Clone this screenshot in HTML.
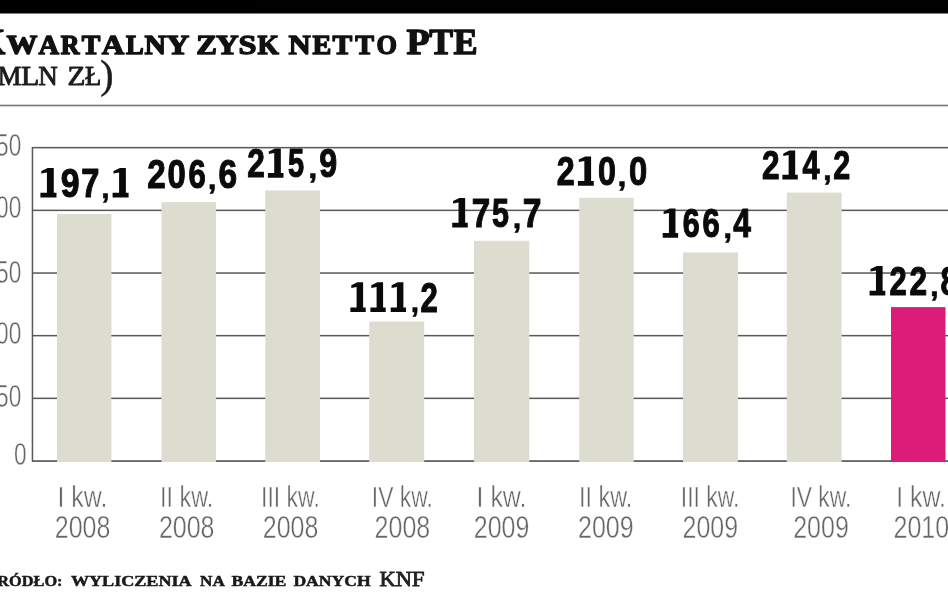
<!DOCTYPE html>
<html><head><meta charset="utf-8"><title>chart</title>
<style>
html,body{margin:0;padding:0;background:#fff;}
body{width:948px;height:593px;overflow:hidden;position:relative;font-family:"Liberation Sans",sans-serif;}
svg{position:absolute;left:0;top:0;display:block;will-change:transform;opacity:0.999;}
.t{font-family:"Liberation Serif",serif;font-weight:bold;fill:#111;stroke:#111;stroke-width:1.25px;stroke-linejoin:round;}
.s{font-family:"Liberation Serif",serif;fill:#1c1c1c;stroke:#1c1c1c;stroke-width:1px;}
.k{font-family:"Liberation Serif",serif;fill:#222;stroke:#222;stroke-width:0.8px;}
.f{font-family:"Liberation Serif",serif;font-weight:bold;fill:#1a1a1a;stroke:#1a1a1a;stroke-width:0.5px;}
.v{font-family:"Liberation Sans",sans-serif;font-weight:bold;fill:#0c0c0c;stroke:#0c0c0c;stroke-width:0.6px;}
.a{font-family:"Liberation Sans",sans-serif;fill:#666;stroke:#fff;stroke-width:0.42px;}
</style></head><body>
<svg width="948" height="593" viewBox="0 0 948 593">
<rect x="0" y="0" width="948" height="593" fill="#fff"/>
<rect x="0" y="0" width="948" height="13.5" fill="#000"/>
<text transform="matrix(0.3493 0 0 0.3513 -21.90 54.00)" font-family="Liberation Serif" font-weight="bold" font-size="100" fill="#111" stroke="#111" stroke-width="4.00" stroke-linejoin="round">K</text>
<text transform="matrix(0.3092 0 0 0.2627 6.56 54.00)" font-family="Liberation Serif" font-weight="bold" font-size="100" fill="#111" stroke="#111" stroke-width="4.91" stroke-linejoin="round">W</text>
<text transform="matrix(0.2851 0 0 0.2627 38.42 54.00)" font-family="Liberation Serif" font-weight="bold" font-size="100" fill="#111" stroke="#111" stroke-width="5.12" stroke-linejoin="round">A</text>
<text transform="matrix(0.2592 0 0 0.2627 60.76 54.00)" font-family="Liberation Serif" font-weight="bold" font-size="100" fill="#111" stroke="#111" stroke-width="5.37" stroke-linejoin="round">R</text>
<text transform="matrix(0.2782 0 0 0.2627 81.87 54.00)" font-family="Liberation Serif" font-weight="bold" font-size="100" fill="#111" stroke="#111" stroke-width="5.18" stroke-linejoin="round">T</text>
<text transform="matrix(0.3120 0 0 0.2627 101.80 54.00)" font-family="Liberation Serif" font-weight="bold" font-size="100" fill="#111" stroke="#111" stroke-width="4.89" stroke-linejoin="round">A</text>
<text transform="matrix(0.2648 0 0 0.2627 125.95 54.00)" font-family="Liberation Serif" font-weight="bold" font-size="100" fill="#111" stroke="#111" stroke-width="5.31" stroke-linejoin="round">L</text>
<text transform="matrix(0.2986 0 0 0.2627 144.53 54.00)" font-family="Liberation Serif" font-weight="bold" font-size="100" fill="#111" stroke="#111" stroke-width="5.00" stroke-linejoin="round">N</text>
<text transform="matrix(0.3195 0 0 0.2627 166.34 54.00)" font-family="Liberation Serif" font-weight="bold" font-size="100" fill="#111" stroke="#111" stroke-width="4.83" stroke-linejoin="round">Y</text>
<text transform="matrix(0.3097 0 0 0.2627 196.22 54.00)" font-family="Liberation Serif" font-weight="bold" font-size="100" fill="#111" stroke="#111" stroke-width="4.91" stroke-linejoin="round">Z</text>
<text transform="matrix(0.3180 0 0 0.2627 215.74 54.00)" font-family="Liberation Serif" font-weight="bold" font-size="100" fill="#111" stroke="#111" stroke-width="4.84" stroke-linejoin="round">Y</text>
<text transform="matrix(0.3236 0 0 0.2718 238.58 54.30)" font-family="Liberation Serif" font-weight="bold" font-size="100" fill="#111" stroke="#111" stroke-width="4.72" stroke-linejoin="round">S</text>
<text transform="matrix(0.2749 0 0 0.2627 257.43 54.00)" font-family="Liberation Serif" font-weight="bold" font-size="100" fill="#111" stroke="#111" stroke-width="5.21" stroke-linejoin="round">K</text>
<text transform="matrix(0.3073 0 0 0.2627 288.51 54.00)" font-family="Liberation Serif" font-weight="bold" font-size="100" fill="#111" stroke="#111" stroke-width="4.93" stroke-linejoin="round">N</text>
<text transform="matrix(0.2823 0 0 0.2627 312.52 54.00)" font-family="Liberation Serif" font-weight="bold" font-size="100" fill="#111" stroke="#111" stroke-width="5.14" stroke-linejoin="round">E</text>
<text transform="matrix(0.2955 0 0 0.2627 332.54 54.00)" font-family="Liberation Serif" font-weight="bold" font-size="100" fill="#111" stroke="#111" stroke-width="5.03" stroke-linejoin="round">T</text>
<text transform="matrix(0.2813 0 0 0.2627 355.26 54.00)" font-family="Liberation Serif" font-weight="bold" font-size="100" fill="#111" stroke="#111" stroke-width="5.15" stroke-linejoin="round">T</text>
<text transform="matrix(0.2632 0 0 0.2718 376.62 54.30)" font-family="Liberation Serif" font-weight="bold" font-size="100" fill="#111" stroke="#111" stroke-width="5.23" stroke-linejoin="round">O</text>
<text transform="matrix(0.3785 0 0 0.3513 406.45 54.00)" font-family="Liberation Serif" font-weight="bold" font-size="100" fill="#111" stroke="#111" stroke-width="3.84" stroke-linejoin="round">P</text>
<text transform="matrix(0.3552 0 0 0.3513 429.14 54.00)" font-family="Liberation Serif" font-weight="bold" font-size="100" fill="#111" stroke="#111" stroke-width="3.96" stroke-linejoin="round">T</text>
<text transform="matrix(0.3608 0 0 0.3513 453.58 54.00)" font-family="Liberation Serif" font-weight="bold" font-size="100" fill="#111" stroke="#111" stroke-width="3.93" stroke-linejoin="round">E</text>
<text transform="matrix(0.2647 0 0 0.2688 -2.31 85.35)" font-family="Liberation Serif" font-weight="normal" font-size="100" fill="#1c1c1c" stroke="#1c1c1c" stroke-width="3.37" stroke-linejoin="round">M</text>
<text transform="matrix(0.2989 0 0 0.2688 21.09 85.35)" font-family="Liberation Serif" font-weight="normal" font-size="100" fill="#1c1c1c" stroke="#1c1c1c" stroke-width="3.18" stroke-linejoin="round">L</text>
<text transform="matrix(0.2700 0 0 0.2688 38.27 85.35)" font-family="Liberation Serif" font-weight="normal" font-size="100" fill="#1c1c1c" stroke="#1c1c1c" stroke-width="3.34" stroke-linejoin="round">N</text>
<text transform="matrix(0.2931 0 0 0.2688 67.45 85.35)" font-family="Liberation Serif" font-weight="normal" font-size="100" fill="#1c1c1c" stroke="#1c1c1c" stroke-width="3.21" stroke-linejoin="round">Z</text>
<text transform="matrix(0.2661 0 0 0.2688 84.89 85.35)" font-family="Liberation Serif" font-weight="normal" font-size="100" fill="#1c1c1c" stroke="#1c1c1c" stroke-width="3.36" stroke-linejoin="round">Ł</text>
<text x="100.3" y="88.3" font-size="40" font-family="Liberation Serif" fill="#1c1c1c" stroke="#1c1c1c" stroke-width="0.5">)</text>
<rect x="0" y="104.7" width="948" height="1.6" fill="#777"/>
<rect x="32" y="146.9" width="916" height="1.5" fill="#585858"/>
<rect x="32" y="209.6" width="916" height="1.5" fill="#585858"/>
<rect x="32" y="272.3" width="916" height="1.5" fill="#585858"/>
<rect x="32" y="334.9" width="916" height="1.5" fill="#585858"/>
<rect x="32" y="397.6" width="916" height="1.5" fill="#585858"/>
<rect x="32" y="460.3" width="916" height="1.5" fill="#444"/>
<rect x="31.7" y="147" width="1.5" height="314.5" fill="#585858"/>
<text class="a" x="-16.5" y="156.0" font-size="31.0" text-anchor="start" textLength="37.8" lengthAdjust="spacingAndGlyphs">250</text>
<text class="a" x="-16.5" y="217.8" font-size="31.0" text-anchor="start" textLength="37.8" lengthAdjust="spacingAndGlyphs">200</text>
<text class="a" x="-16.5" y="282.6" font-size="31.0" text-anchor="start" textLength="37.8" lengthAdjust="spacingAndGlyphs">150</text>
<text class="a" x="-16.5" y="344.0" font-size="31.0" text-anchor="start" textLength="37.8" lengthAdjust="spacingAndGlyphs">100</text>
<text class="a" x="-3.9" y="407.0" font-size="31.0" text-anchor="start" textLength="25.2" lengthAdjust="spacingAndGlyphs">50</text>
<text class="a" x="14.1" y="465.3" font-size="31.0" text-anchor="start" textLength="12.6" lengthAdjust="spacingAndGlyphs">0</text>
<rect x="57.0" y="214.0" width="54.4" height="248.0" fill="#dcdcd0"/>
<rect x="161.5" y="202.1" width="54.5" height="259.9" fill="#dcdcd0"/>
<rect x="265.3" y="190.4" width="54.7" height="271.6" fill="#dcdcd0"/>
<rect x="369.2" y="321.6" width="55.0" height="140.4" fill="#dcdcd0"/>
<rect x="474.0" y="240.8" width="55.3" height="221.2" fill="#dcdcd0"/>
<rect x="579.2" y="197.8" width="54.5" height="264.2" fill="#dcdcd0"/>
<rect x="683.0" y="252.5" width="55.0" height="209.5" fill="#dcdcd0"/>
<rect x="786.8" y="192.6" width="54.8" height="269.4" fill="#dcdcd0"/>
<rect x="891.0" y="307.1" width="54.5" height="154.9" fill="#dc1c78"/>
<path d="M40.40 197.40 L40.40 192.70 L46.92 192.70 L46.92 172.50 L41.30 173.50 L41.30 170.90 L47.72 167.90 L53.76 167.90 L53.76 192.70 L56.50 192.70 L56.50 197.40 Z" fill="#0a0a0a"/>
<text transform="matrix(0.3386 0 0 0.4143 60.63 196.90)" font-family="Liberation Sans" font-weight="bold" font-size="100" fill="#0a0a0a" stroke="#0a0a0a" stroke-width="2.67" stroke-linejoin="round">9</text>
<text transform="matrix(0.3261 0 0 0.4143 81.30 196.90)" font-family="Liberation Sans" font-weight="bold" font-size="100" fill="#0a0a0a" stroke="#0a0a0a" stroke-width="2.72" stroke-linejoin="round">7</text>
<text transform="matrix(0.3006 0 0 0.2930 101.36 197.56)" font-family="Liberation Sans" font-weight="bold" font-size="100" fill="#0a0a0a" stroke="#0a0a0a" stroke-width="2.02" stroke-linejoin="round">,</text>
<path d="M112.60 197.40 L112.60 192.70 L119.08 192.70 L119.08 172.50 L113.50 173.50 L113.50 170.90 L119.88 167.90 L125.88 167.90 L125.88 192.70 L128.60 192.70 L128.60 197.40 Z" fill="#0a0a0a"/>
<text transform="matrix(0.3323 0 0 0.4157 147.25 188.40)" font-family="Liberation Sans" font-weight="bold" font-size="100" fill="#0a0a0a" stroke="#0a0a0a" stroke-width="2.69" stroke-linejoin="round">2</text>
<text transform="matrix(0.3280 0 0 0.4157 167.60 188.40)" font-family="Liberation Sans" font-weight="bold" font-size="100" fill="#0a0a0a" stroke="#0a0a0a" stroke-width="2.71" stroke-linejoin="round">0</text>
<text transform="matrix(0.3103 0 0 0.4157 188.46 188.40)" font-family="Liberation Sans" font-weight="bold" font-size="100" fill="#0a0a0a" stroke="#0a0a0a" stroke-width="2.78" stroke-linejoin="round">6</text>
<text transform="matrix(0.3145 0 0 0.2930 207.87 189.06)" font-family="Liberation Sans" font-weight="bold" font-size="100" fill="#0a0a0a" stroke="#0a0a0a" stroke-width="1.98" stroke-linejoin="round">,</text>
<text transform="matrix(0.3351 0 0 0.4157 218.47 188.40)" font-family="Liberation Sans" font-weight="bold" font-size="100" fill="#0a0a0a" stroke="#0a0a0a" stroke-width="2.68" stroke-linejoin="round">6</text>
<text transform="matrix(0.3157 0 0 0.4113 247.31 177.20)" font-family="Liberation Sans" font-weight="bold" font-size="100" fill="#0a0a0a" stroke="#0a0a0a" stroke-width="2.77" stroke-linejoin="round">2</text>
<path d="M267.90 177.70 L267.90 173.00 L274.22 173.00 L274.22 153.00 L268.80 154.00 L268.80 151.40 L275.02 148.40 L280.85 148.40 L280.85 173.00 L283.50 173.00 L283.50 177.70 Z" fill="#0a0a0a"/>
<text transform="matrix(0.2894 0 0 0.4113 288.11 177.20)" font-family="Liberation Sans" font-weight="bold" font-size="100" fill="#0a0a0a" stroke="#0a0a0a" stroke-width="2.90" stroke-linejoin="round">5</text>
<text transform="matrix(0.3285 0 0 0.2930 308.27 177.86)" font-family="Liberation Sans" font-weight="bold" font-size="100" fill="#0a0a0a" stroke="#0a0a0a" stroke-width="1.93" stroke-linejoin="round">,</text>
<text transform="matrix(0.3221 0 0 0.4113 319.18 177.20)" font-family="Liberation Sans" font-weight="bold" font-size="100" fill="#0a0a0a" stroke="#0a0a0a" stroke-width="2.75" stroke-linejoin="round">9</text>
<path d="M350.40 312.10 L350.40 307.40 L356.60 307.40 L356.60 286.90 L351.30 287.90 L351.30 285.30 L357.40 282.30 L363.10 282.30 L363.10 307.40 L365.70 307.40 L365.70 312.10 Z" fill="#0a0a0a"/>
<path d="M370.40 312.10 L370.40 307.40 L376.60 307.40 L376.60 286.90 L371.30 287.90 L371.30 285.30 L377.40 282.30 L383.10 282.30 L383.10 307.40 L385.70 307.40 L385.70 312.10 Z" fill="#0a0a0a"/>
<path d="M390.70 312.10 L390.70 307.40 L396.90 307.40 L396.90 286.90 L391.60 287.90 L391.60 285.30 L397.70 282.30 L403.40 282.30 L403.40 307.40 L406.00 307.40 L406.00 312.10 Z" fill="#0a0a0a"/>
<text transform="matrix(0.3006 0 0 0.2930 410.76 312.26)" font-family="Liberation Sans" font-weight="bold" font-size="100" fill="#0a0a0a" stroke="#0a0a0a" stroke-width="2.02" stroke-linejoin="round">,</text>
<text transform="matrix(0.3116 0 0 0.4186 420.62 311.60)" font-family="Liberation Sans" font-weight="bold" font-size="100" fill="#0a0a0a" stroke="#0a0a0a" stroke-width="2.77" stroke-linejoin="round">2</text>
<path d="M452.20 227.40 L452.20 222.70 L458.52 222.70 L458.52 202.50 L453.10 203.50 L453.10 200.90 L459.32 197.90 L465.15 197.90 L465.15 222.70 L467.80 222.70 L467.80 227.40 Z" fill="#0a0a0a"/>
<text transform="matrix(0.3325 0 0 0.4143 471.77 226.90)" font-family="Liberation Sans" font-weight="bold" font-size="100" fill="#0a0a0a" stroke="#0a0a0a" stroke-width="2.69" stroke-linejoin="round">7</text>
<text transform="matrix(0.3055 0 0 0.4143 492.06 226.90)" font-family="Liberation Sans" font-weight="bold" font-size="100" fill="#0a0a0a" stroke="#0a0a0a" stroke-width="2.81" stroke-linejoin="round">5</text>
<text transform="matrix(0.3075 0 0 0.2930 512.71 227.56)" font-family="Liberation Sans" font-weight="bold" font-size="100" fill="#0a0a0a" stroke="#0a0a0a" stroke-width="2.00" stroke-linejoin="round">,</text>
<text transform="matrix(0.3367 0 0 0.4143 522.85 226.90)" font-family="Liberation Sans" font-weight="bold" font-size="100" fill="#0a0a0a" stroke="#0a0a0a" stroke-width="2.68" stroke-linejoin="round">7</text>
<text transform="matrix(0.3219 0 0 0.4113 556.68 185.20)" font-family="Liberation Sans" font-weight="bold" font-size="100" fill="#0a0a0a" stroke="#0a0a0a" stroke-width="2.75" stroke-linejoin="round">2</text>
<path d="M577.90 185.70 L577.90 181.00 L584.34 181.00 L584.34 161.00 L578.80 162.00 L578.80 159.40 L585.14 156.40 L591.10 156.40 L591.10 181.00 L593.80 181.00 L593.80 185.70 Z" fill="#0a0a0a"/>
<text transform="matrix(0.3217 0 0 0.4113 598.03 185.20)" font-family="Liberation Sans" font-weight="bold" font-size="100" fill="#0a0a0a" stroke="#0a0a0a" stroke-width="2.75" stroke-linejoin="round">0</text>
<text transform="matrix(0.3215 0 0 0.2930 617.52 185.86)" font-family="Liberation Sans" font-weight="bold" font-size="100" fill="#0a0a0a" stroke="#0a0a0a" stroke-width="1.95" stroke-linejoin="round">,</text>
<text transform="matrix(0.3280 0 0 0.4113 629.00 185.20)" font-family="Liberation Sans" font-weight="bold" font-size="100" fill="#0a0a0a" stroke="#0a0a0a" stroke-width="2.72" stroke-linejoin="round">0</text>
<path d="M662.70 237.70 L662.70 233.00 L668.94 233.00 L668.94 213.00 L663.60 214.00 L663.60 211.40 L669.74 208.40 L675.48 208.40 L675.48 233.00 L678.10 233.00 L678.10 237.70 Z" fill="#0a0a0a"/>
<text transform="matrix(0.3041 0 0 0.4113 682.69 237.20)" font-family="Liberation Sans" font-weight="bold" font-size="100" fill="#0a0a0a" stroke="#0a0a0a" stroke-width="2.83" stroke-linejoin="round">6</text>
<text transform="matrix(0.3103 0 0 0.4113 702.46 237.20)" font-family="Liberation Sans" font-weight="bold" font-size="100" fill="#0a0a0a" stroke="#0a0a0a" stroke-width="2.80" stroke-linejoin="round">6</text>
<text transform="matrix(0.3215 0 0 0.2930 723.22 237.86)" font-family="Liberation Sans" font-weight="bold" font-size="100" fill="#0a0a0a" stroke="#0a0a0a" stroke-width="1.95" stroke-linejoin="round">,</text>
<text transform="matrix(0.3174 0 0 0.4113 733.22 237.20)" font-family="Liberation Sans" font-weight="bold" font-size="100" fill="#0a0a0a" stroke="#0a0a0a" stroke-width="2.77" stroke-linejoin="round">4</text>
<text transform="matrix(0.3157 0 0 0.4070 762.11 178.90)" font-family="Liberation Sans" font-weight="bold" font-size="100" fill="#0a0a0a" stroke="#0a0a0a" stroke-width="2.79" stroke-linejoin="round">2</text>
<path d="M782.40 179.40 L782.40 174.70 L788.64 174.70 L788.64 155.00 L783.30 156.00 L783.30 153.40 L789.44 150.40 L795.18 150.40 L795.18 174.70 L797.80 174.70 L797.80 179.40 Z" fill="#0a0a0a"/>
<text transform="matrix(0.3062 0 0 0.4070 802.54 178.90)" font-family="Liberation Sans" font-weight="bold" font-size="100" fill="#0a0a0a" stroke="#0a0a0a" stroke-width="2.83" stroke-linejoin="round">4</text>
<text transform="matrix(0.3145 0 0 0.2930 823.07 179.56)" font-family="Liberation Sans" font-weight="bold" font-size="100" fill="#0a0a0a" stroke="#0a0a0a" stroke-width="1.98" stroke-linejoin="round">,</text>
<text transform="matrix(0.3053 0 0 0.4070 833.24 178.90)" font-family="Liberation Sans" font-weight="bold" font-size="100" fill="#0a0a0a" stroke="#0a0a0a" stroke-width="2.84" stroke-linejoin="round">2</text>
<path d="M869.60 295.40 L869.60 290.70 L875.96 290.70 L875.96 270.50 L870.50 271.50 L870.50 268.90 L876.76 265.90 L882.63 265.90 L882.63 290.70 L885.30 290.70 L885.30 295.40 Z" fill="#0a0a0a"/>
<text transform="matrix(0.3095 0 0 0.4143 889.43 294.90)" font-family="Liberation Sans" font-weight="bold" font-size="100" fill="#0a0a0a" stroke="#0a0a0a" stroke-width="2.79" stroke-linejoin="round">2</text>
<text transform="matrix(0.3157 0 0 0.4143 909.61 294.90)" font-family="Liberation Sans" font-weight="bold" font-size="100" fill="#0a0a0a" stroke="#0a0a0a" stroke-width="2.77" stroke-linejoin="round">2</text>
<text transform="matrix(0.3145 0 0 0.2930 929.97 295.56)" font-family="Liberation Sans" font-weight="bold" font-size="100" fill="#0a0a0a" stroke="#0a0a0a" stroke-width="1.98" stroke-linejoin="round">,</text>
<text transform="matrix(0.3140 0 0 0.4143 940.50 294.90)" font-family="Liberation Sans" font-weight="bold" font-size="100" fill="#0a0a0a" stroke="#0a0a0a" stroke-width="2.77" stroke-linejoin="round">8</text>
<text class="a" x="57.5" y="507.2" font-size="29.3" text-anchor="start" textLength="49.8" lengthAdjust="spacingAndGlyphs">I kw.</text>
<text class="a" x="54.8" y="538.4" font-size="32.2" text-anchor="start" textLength="55.6" lengthAdjust="spacingAndGlyphs">2008</text>
<text class="a" x="160.0" y="507.2" font-size="29.3" text-anchor="start" textLength="53.3" lengthAdjust="spacingAndGlyphs">II kw.</text>
<text class="a" x="158.9" y="538.4" font-size="32.2" text-anchor="start" textLength="55.6" lengthAdjust="spacingAndGlyphs">2008</text>
<text class="a" x="261.1" y="507.2" font-size="29.3" text-anchor="start" textLength="58.7" lengthAdjust="spacingAndGlyphs">III kw.</text>
<text class="a" x="262.8" y="538.4" font-size="32.2" text-anchor="start" textLength="55.6" lengthAdjust="spacingAndGlyphs">2008</text>
<text class="a" x="371.8" y="507.2" font-size="29.3" text-anchor="start" textLength="61.0" lengthAdjust="spacingAndGlyphs">IV kw.</text>
<text class="a" x="374.6" y="538.4" font-size="32.2" text-anchor="start" textLength="55.6" lengthAdjust="spacingAndGlyphs">2008</text>
<text class="a" x="476.6" y="507.2" font-size="29.3" text-anchor="start" textLength="49.8" lengthAdjust="spacingAndGlyphs">I kw.</text>
<text class="a" x="473.8" y="538.4" font-size="32.2" text-anchor="start" textLength="55.6" lengthAdjust="spacingAndGlyphs">2009</text>
<text class="a" x="579.0" y="507.2" font-size="29.3" text-anchor="start" textLength="53.3" lengthAdjust="spacingAndGlyphs">II kw.</text>
<text class="a" x="578.0" y="538.4" font-size="32.2" text-anchor="start" textLength="55.6" lengthAdjust="spacingAndGlyphs">2009</text>
<text class="a" x="680.8" y="507.2" font-size="29.3" text-anchor="start" textLength="58.7" lengthAdjust="spacingAndGlyphs">III kw.</text>
<text class="a" x="682.5" y="538.4" font-size="32.2" text-anchor="start" textLength="55.6" lengthAdjust="spacingAndGlyphs">2009</text>
<text class="a" x="790.4" y="507.2" font-size="29.3" text-anchor="start" textLength="61.0" lengthAdjust="spacingAndGlyphs">IV kw.</text>
<text class="a" x="793.2" y="538.4" font-size="32.2" text-anchor="start" textLength="55.6" lengthAdjust="spacingAndGlyphs">2009</text>
<text class="a" x="896.2" y="507.2" font-size="29.3" text-anchor="start" textLength="49.8" lengthAdjust="spacingAndGlyphs">I kw.</text>
<text class="a" x="893.5" y="538.4" font-size="32.2" text-anchor="start" textLength="55.6" lengthAdjust="spacingAndGlyphs">2010</text>
<text class="f" x="-13.5" y="585.9" font-size="15.2" text-anchor="start" textLength="76.0" lengthAdjust="spacingAndGlyphs">ŹRÓDŁO:</text>
<text class="f" x="70.9" y="585.9" font-size="15.2" text-anchor="start" textLength="120.7" lengthAdjust="spacingAndGlyphs">WYLICZENIA</text>
<text class="f" x="200.0" y="585.9" font-size="15.2" text-anchor="start" textLength="24.8" lengthAdjust="spacingAndGlyphs">NA</text>
<text class="f" x="231.4" y="585.9" font-size="15.2" text-anchor="start" textLength="55.0" lengthAdjust="spacingAndGlyphs">BAZIE</text>
<text class="f" x="293.4" y="585.9" font-size="15.2" text-anchor="start" textLength="77.2" lengthAdjust="spacingAndGlyphs">DANYCH</text>
<text class="k" x="379.5" y="585.9" font-size="21.0" text-anchor="start" textLength="45.0" lengthAdjust="spacingAndGlyphs">KNF</text>
</svg></body></html>
